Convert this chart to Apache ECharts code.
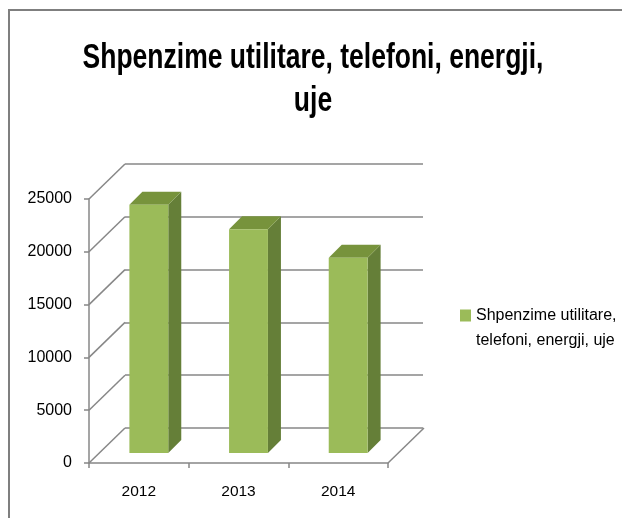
<!DOCTYPE html>
<html>
<head>
<meta charset="utf-8">
<script src="https://cdn.jsdelivr.net/npm/echarts@6/dist/echarts.min.js"></script>
<style>
  html, body { margin: 0; padding: 0; background: #fff; }
  #box { width: 622px; height: 518px; }
</style>
</head>
<body>
<div id="box"></div>
<script>
var years = ['2012', '2013', '2014'];
var values = [23500, 21200, 18500];
var yTicks = [0, 5000, 10000, 15000, 20000, 25000];
var seriesName = 'Shpenzime utilitare, telefoni, energji, uje';

var FONT = "'Liberation Sans', Arial, sans-serif";
var GRAY = '#878787';
var WALL_DX = 36, WALL_DY = 35; // depth of the 3d box
var BAR_DX = 10;                 // bar front face offset into the box
var BAR_DEPTH = 13;

var barData = values.map(function (v, i) { return [i, v]; });
var tickData = yTicks.map(function (t) { return [0, t]; });

var dom = document.getElementById('box');
var myChart = echarts.init(dom);

option = {
    backgroundColor: '#fff',
    animation: false,
    legend: {
        data: [seriesName],
        orient: 'vertical',
        left: 460,
        top: 278,
        padding: 0,
        itemWidth: 11,
        itemHeight: 12,
        icon: 'rect',
        // leading blank line keeps the marker beside the first line
        formatter: function () { return ' \nShpenzime utilitare,\ntelefoni, energji, uje'; },
        textStyle: {
            fontFamily: FONT,
            fontSize: 16,
            lineHeight: 25,
            color: '#000'
        }
    },
    graphic: [{
        type: 'rect',
        shape: { x: 9, y: 10, width: 700, height: 600 },
        style: { fill: 'none', stroke: '#7f7f7f', lineWidth: 2 },
        silent: true
    }, {
        type: 'text',
        x: 313,
        y: 80,
        scaleY: 1.3,
        silent: true,
        style: {
            text: 'Shpenzime utilitare, telefoni, energji,\nuje',
            align: 'center',
            verticalAlign: 'middle',
            fontFamily: FONT,
            fontWeight: 'bold',
            fontSize: 26.5,
            lineHeight: 33,
            fill: '#000'
        }
    }],
    grid: [
        { left: 89, top: 199, right: 234, bottom: 55 },
        { left: 125, top: 164, right: 199, bottom: 90 }
    ],
    xAxis: [{
        type: 'category',
        gridIndex: 0,
        data: years,
        axisLine: { show: true, lineStyle: { color: GRAY, width: 1.5 } },
        axisTick: { show: true, length: 5, lineStyle: { color: GRAY, width: 1.5 } },
        axisLabel: { color: '#000', fontFamily: FONT, fontSize: 15.5, margin: 21 },
        splitLine: { show: false }
    }, {
        type: 'category',
        gridIndex: 1,
        data: years,
        show: false
    }],
    yAxis: [{
        type: 'value',
        gridIndex: 0,
        min: 0,
        max: 25000,
        interval: 5000,
        axisLine: { show: true, lineStyle: { color: GRAY, width: 1.5 } },
        axisTick: { show: true, length: 5, lineStyle: { color: GRAY, width: 1.5 } },
        axisLabel: {
            color: '#000', fontFamily: FONT, fontSize: 16, margin: 17,
            formatter: function (v) { return String(v); }
        },
        splitLine: { show: false }
    }, {
        type: 'value',
        gridIndex: 1,
        min: 0,
        max: 25000,
        interval: 5000,
        axisLine: { show: false },
        axisTick: { show: false },
        axisLabel: { show: false },
        splitLine: { show: true, lineStyle: { color: GRAY, width: 1.5 } }
    }],
    series: [{
        // left wall diagonals, one per tick
        type: 'custom',
        xAxisIndex: 0,
        yAxisIndex: 0,
        data: tickData,
        silent: true,
        z: 1,
        renderItem: function (params, api) {
            var band = api.size([1, 0])[0];
            var p = api.coord([api.value(0), api.value(1)]);
            var x = p[0] - band / 2;
            return {
                type: 'line',
                shape: { x1: x, y1: p[1], x2: x + WALL_DX, y2: p[1] - WALL_DY },
                style: { stroke: GRAY, lineWidth: 1.5 }
            };
        }
    }, {
        // right edge of the floor
        type: 'custom',
        xAxisIndex: 0,
        yAxisIndex: 0,
        data: [[years.length - 1, 0]],
        silent: true,
        z: 1,
        renderItem: function (params, api) {
            var band = api.size([1, 0])[0];
            var p = api.coord([api.value(0), api.value(1)]);
            var x = p[0] + band / 2;
            return {
                type: 'line',
                shape: { x1: x, y1: p[1], x2: x + WALL_DX, y2: p[1] - WALL_DY },
                style: { stroke: GRAY, lineWidth: 1.5 }
            };
        }
    }, {
        name: seriesName,
        type: 'custom',
        xAxisIndex: 0,
        yAxisIndex: 0,
        data: barData,
        z: 5,
        itemStyle: { color: '#9BBB59' },
        encode: { x: 0, y: 1 },
        renderItem: function (params, api) {
            var band = api.size([1, 0])[0];
            var top = api.coord([api.value(0), api.value(1)]);
            var base = api.coord([api.value(0), 0]);
            var w = band * 0.39;
            var x0 = top[0] - w / 2 + BAR_DX;
            var x1 = x0 + w;
            var yt = top[1] - BAR_DX;
            var yb = base[1] - BAR_DX;
            var d = BAR_DEPTH;
            return {
                type: 'group',
                children: [{
                    type: 'polygon',
                    shape: { points: [[x1, yt], [x1 + d, yt - d], [x1 + d, yb - d], [x1, yb]] },
                    style: { fill: '#657F38' }
                }, {
                    type: 'polygon',
                    shape: { points: [[x0, yt], [x1, yt], [x1 + d, yt - d], [x0 + d, yt - d]] },
                    style: { fill: '#77933C' }
                }, {
                    type: 'rect',
                    shape: { x: x0, y: yt, width: w, height: yb - yt },
                    style: { fill: '#9BBB59' }
                }]
            };
        }
    }]
};

if (option && typeof option === "object") {
    myChart.setOption(option, true);
}
</script>
</body>
</html>
